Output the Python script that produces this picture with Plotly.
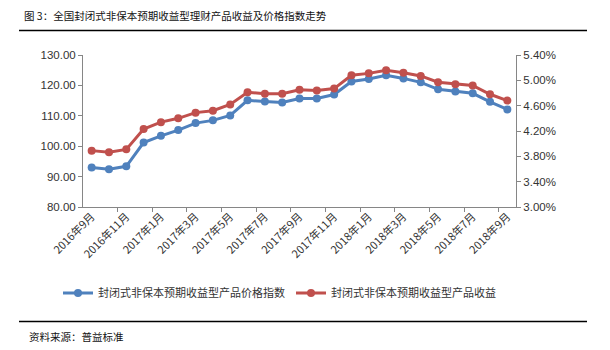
import plotly.graph_objects as go

# Monthly categories, 2016-09 through 2018-09
months = [
    "2016年9月", "2016年10月", "2016年11月", "2016年12月",
    "2017年1月", "2017年2月", "2017年3月", "2017年4月", "2017年5月", "2017年6月",
    "2017年7月", "2017年8月", "2017年9月", "2017年10月", "2017年11月", "2017年12月",
    "2018年1月", "2018年2月", "2018年3月", "2018年4月", "2018年5月", "2018年6月",
    "2018年7月", "2018年8月", "2018年9月",
]

# Price index (left axis)
price_index = [
    93.0, 92.4, 93.4, 101.2, 103.4, 105.3, 107.6, 108.5, 110.1, 115.1,
    114.7, 114.4, 115.7, 115.7, 117.0, 121.3, 122.1, 123.3, 122.3, 121.0,
    118.7, 118.0, 117.4, 114.6, 112.1,
]

# Yield in percent (right axis)
yield_pct = [
    3.89, 3.865, 3.91, 4.23, 4.34, 4.40, 4.49, 4.52, 4.62, 4.81,
    4.79, 4.79, 4.85, 4.84, 4.87, 5.08, 5.11, 5.16, 5.12, 5.07,
    4.97, 4.94, 4.92, 4.78, 4.68,
]

series_names = ["封闭式非保本预期收益型产品价格指数", "封闭式非保本预期收益型产品收益"]
title_text = "图 3：全国封闭式非保本预期收益型理财产品收益及价格指数走势"
source_text = "资料来源：普益标准"

W, H = 610, 350
L, R, T, B = 83, 94, 55, 143
PW, PH = W - L - R, H - T - B

def px_x(px):
    return (px - L) / PW

def px_y(py):
    return (H - B - py) / PH

BLUE = "#4F81BD"
RED = "#C0504D"
AXIS = "#868686"
TXT = "#333333"
CJK = "Noto Sans CJK SC"
LAT = "Liberation Sans"

xs = list(range(len(months)))
label_idx = xs[::2]

fig = go.Figure()
fig.add_trace(go.Scatter(
    x=xs, y=price_index, name=series_names[0], mode="lines+markers",
    line=dict(color=BLUE, width=3), marker=dict(color=BLUE, size=8),
    xaxis="x", yaxis="y", legend="legend",
))
fig.add_trace(go.Scatter(
    x=xs, y=yield_pct, name=series_names[1], mode="lines+markers",
    line=dict(color=RED, width=3), marker=dict(color=RED, size=8),
    xaxis="x", yaxis="y2", legend="legend2",
))

xrange = [-0.5, len(months) - 0.5]
legend_style = dict(
    orientation="h", yanchor="middle", xanchor="left",
    font=dict(family=CJK, size=11, color=TXT),
    itemwidth=30, bgcolor="rgba(0,0,0,0)",
)

fig.update_layout(
    width=W, height=H,
    margin=dict(l=L, r=R, t=T, b=B),
    paper_bgcolor="white", plot_bgcolor="white",
    showlegend=True,
    legend=dict(legend_style, x=px_x(58), y=px_y(293)),
    legend2=dict(legend_style, x=px_x(291), y=px_y(293)),
    # tick marks between category pairs
    xaxis=dict(
        range=xrange, showgrid=False, zeroline=False,
        showline=True, linecolor=AXIS, linewidth=1,
        tickmode="array", tickvals=[i + 1.5 for i in label_idx[:-1]],
        ticktext=["" for _ in label_idx[:-1]],
        ticks="outside", ticklen=4, tickcolor=AXIS,
    ),
    # category labels
    xaxis2=dict(
        range=xrange, overlaying="x", side="bottom", anchor="y",
        showgrid=False, zeroline=False, showline=False,
        tickmode="array", tickvals=label_idx,
        ticktext=[months[i] for i in label_idx],
        ticks="", tickangle=-45,
        tickfont=dict(family=CJK, size=11, color=TXT),
    ),
    yaxis=dict(
        range=[80, 130], dtick=10, tick0=80, tickformat=".2f",
        showgrid=False, zeroline=False,
        showline=True, linecolor=AXIS, linewidth=1,
        ticks="outside", ticklen=4, tickcolor=AXIS,
        tickfont=dict(family=LAT, size=11.5, color=TXT),
    ),
    yaxis2=dict(
        range=[3.0, 5.4], dtick=0.4, tick0=3.0, tickformat=".2f", ticksuffix="%",
        overlaying="y", side="right", anchor="x",
        showgrid=False, zeroline=False,
        showline=True, linecolor=AXIS, linewidth=1,
        ticks="outside", ticklen=4, tickcolor=AXIS,
        tickfont=dict(family=LAT, size=11.5, color=TXT),
    ),
)

# invisible trace so the label axis is drawn
fig.add_trace(go.Scatter(x=[xs[0]], y=[price_index[0]], xaxis="x2", yaxis="y",
                         mode="markers", marker=dict(opacity=0), showlegend=False,
                         hoverinfo="skip"))

fig.add_annotation(
    text=title_text, xref="paper", yref="paper", x=px_x(22), y=px_y(15),
    xanchor="left", yanchor="middle", showarrow=False,
    font=dict(family=CJK, size=10.5, color="#111111"),
)
fig.add_annotation(
    text=source_text, xref="paper", yref="paper", x=px_x(27), y=px_y(336),
    xanchor="left", yanchor="middle", showarrow=False,
    font=dict(family=CJK, size=10.5, color="#111111"),
)
for yline in (30.5, 321.5):
    fig.add_shape(type="line", xref="paper", yref="paper",
                  x0=px_x(19), x1=px_x(587), y0=px_y(yline), y1=px_y(yline),
                  line=dict(color="black", width=1.5))

fig.write_html("out.html")
